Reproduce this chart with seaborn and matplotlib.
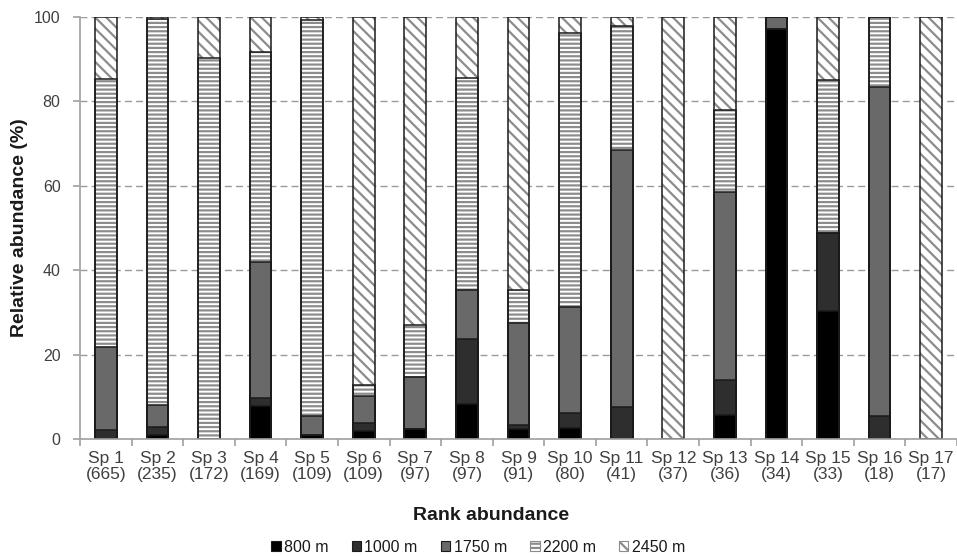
import pandas as pd
import matplotlib
matplotlib.use("Agg")
import matplotlib.pyplot as plt
from matplotlib.patches import Patch
import seaborn as sns

# species ranked by abundance, total counts in brackets
species = ["Sp 1", "Sp 2", "Sp 3", "Sp 4", "Sp 5", "Sp 6", "Sp 7", "Sp 8", "Sp 9",
           "Sp 10", "Sp 11", "Sp 12", "Sp 13", "Sp 14", "Sp 15", "Sp 16", "Sp 17"]
counts = [665, 235, 172, 169, 109, 109, 97, 97, 91, 80, 41, 37, 36, 34, 33, 18, 17]

# relative abundance (%) per altitude
m800 = [0, 0.9, 0, 7.8, 0.9, 2.0, 2.3, 8.4, 2.3, 2.5, 0, 0, 5.7, 97.2, 30.3, 0, 0]
m1000 = [2.1, 1.9, 0, 1.8, 0, 1.7, 0, 15.2, 1.0, 3.6, 7.5, 0, 8.3, 0, 18.4, 5.5, 0]
m1750 = [19.6, 5.3, 0, 32.4, 4.6, 6.5, 12.3, 11.7, 24.1, 25.2, 60.9, 0, 44.5, 2.8, 0, 77.8, 0]
m2200 = [63.5, 91.5, 90.2, 49.8, 93.7, 2.6, 12.3, 50.3, 7.9, 65.0, 29.5, 0, 19.4, 0, 36.3, 16.7, 0]
m2450 = [14.8, 0.4, 9.8, 8.2, 0.8, 87.2, 73.1, 14.4, 64.7, 3.7, 2.1, 100, 22.1, 0, 15.0, 0, 100]

layers = ["800 m", "1000 m", "1750 m", "2200 m", "2450 m"]
fills = ["#000000", "#2e2e2e", "#696969", "white", "white"]
hatches = [None, None, None, "----", "\\\\\\"]
hatch_gray = "#8c8c8c"
edge = "#1a1a1a"

labels = [f"{s}\n({n})" for s, n in zip(species, counts)]
df = pd.DataFrame({"label": labels, "800 m": m800, "1000 m": m1000,
                   "1750 m": m1750, "2200 m": m2200, "2450 m": m2450})
cum = df[layers].cumsum(axis=1)
cum["label"] = df["label"]

sns.set_style("white")
plt.rcParams["font.family"] = ["Liberation Sans", "DejaVu Sans"]
plt.rcParams["hatch.linewidth"] = 1.6

fig = plt.figure(figsize=(9.57, 5.56), dpi=100)
ax = fig.add_axes([80 / 957, 1 - 439 / 556, 877 / 957, 422 / 556])

# stacked bars: draw cumulative totals from the top layer down
for i in range(len(layers) - 1, -1, -1):
    lay = layers[i]
    if hatches[i]:
        sns.barplot(data=cum, x="label", y=lay, color=fills[i], saturation=1, width=0.42,
                    errorbar=None, hatch=hatches[i], edgecolor=hatch_gray, linewidth=0, ax=ax)
    else:
        sns.barplot(data=cum, x="label", y=lay, color=fills[i], saturation=1, width=0.42,
                    errorbar=None, edgecolor=edge, linewidth=0, ax=ax)
# outlines for every segment
for lay in layers:
    sns.barplot(data=cum, x="label", y=lay, color=edge, fill=False, width=0.42,
                errorbar=None, linewidth=1.1, ax=ax)

ax.set_xlim(-0.5, 16.5)
ax.set_ylim(0, 100)
ax.set_yticks([0, 20, 40, 60, 80, 100])
ax.set_axisbelow(True)
ax.yaxis.grid(True, color="#9a9a9a", linestyle=(0, (5, 3)), linewidth=1)
for s in ["top", "right"]:
    ax.spines[s].set_visible(False)
for s in ["left", "bottom"]:
    ax.spines[s].set_color("#a0a0a0")
    ax.spines[s].set_linewidth(1.2)

ax.set_xticks(range(len(labels)))
ax.set_xticklabels(labels, linespacing=1.05)
ax.set_xticks([k - 0.5 for k in range(len(labels) + 1)], minor=True)
ax.tick_params(axis="x", which="major", length=0, pad=9, labelsize=12.5, labelcolor="#404040")
ax.tick_params(axis="x", which="minor", length=5, width=1.2, color="#a0a0a0", direction="out", bottom=True)
ax.tick_params(axis="y", length=5, width=1.2, color="#a0a0a0", direction="out", left=True,
               pad=9, labelsize=11.5, labelcolor="#404040")
ax.set_xlabel("")
ax.set_ylabel("")

fig.text(19.5 / 957, 1 - 228 / 556, "Relative abundance (%)", rotation=90, ha="center", va="center",
         fontsize=14, fontweight="bold", color="#1a1a1a")
fig.text(491 / 957, 1 - 515 / 556, "Rank abundance", ha="center", va="center",
         fontsize=14, fontweight="bold", color="#1a1a1a")

handles = [Patch(facecolor=fills[i], hatch=hatches[i], edgecolor=hatch_gray if hatches[i] else edge,
                 linewidth=0.8) for i in range(len(layers))]
fig.legend(handles, layers, loc="center", bbox_to_anchor=(478 / 957, 1 - 547 / 556), ncol=5,
           frameon=False, fontsize=11.5, handlelength=0.6, handleheight=0.6, handletextpad=0.2,
           columnspacing=1.45, labelcolor="#1a1a1a")

fig.savefig("out.png", dpi=100)
